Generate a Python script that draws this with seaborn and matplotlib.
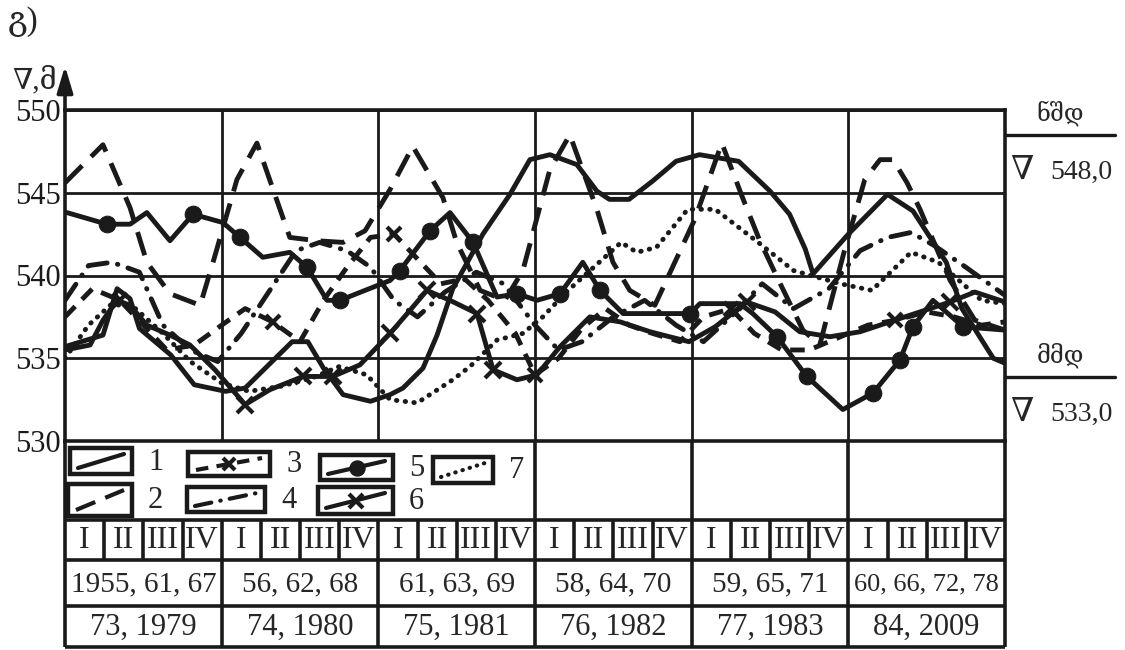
import numpy as np
import pandas as pd
import matplotlib
matplotlib.use("Agg")
import matplotlib.pyplot as plt
import seaborn as sns
from matplotlib.transforms import blended_transform_factory
from matplotlib.patches import Rectangle

# ---------------- data (x in quarters from the start, 0..24) ----------------
s1_x = [0, 0.97, 1.33, 1.66, 1.9, 2.7, 3.3, 4.1, 4.6, 5.8, 6.2, 6.6, 7.1, 7.8, 8.3, 8.63, 9.14, 9.5, 9.9, 10.67,
        11.36, 11.87, 12.38, 13.07, 13.58, 13.9, 14.4, 15.0, 15.6, 16.2, 17.2, 18.0, 18.5, 18.9, 19.1, 20.0, 21.0,
        21.65, 22.5, 22.9, 23.7, 24]
s1_y = [535.7, 536.4, 539.2, 538.6, 536.8, 535.2, 533.4, 533.0, 533.2, 536.0, 536.0, 534.4, 532.8, 532.4, 532.8,
        533.2, 534.4, 536.4, 539.2, 542.5, 544.9, 547.0, 547.3, 546.7, 545.1, 544.6, 544.6, 545.7, 546.9, 547.3,
        546.9, 545.1, 543.7, 541.6, 540.1, 542.5, 544.9, 543.9, 540.8, 538.0, 535.0, 534.7]

s2_x = [0, 0.97, 1.66, 2.09, 2.68, 3.45, 3.78, 4.39, 4.9, 5.74, 6.43, 7.1, 7.66, 8.3, 8.88, 9.65, 10.0, 10.6,
        11.23, 11.69, 11.95, 12.38, 12.89, 13.58, 13.99, 14.42, 15.06, 16.08, 16.77, 17.3, 17.74, 18.18, 18.84,
        19.27, 19.9, 20.42, 20.81, 21.14, 21.5, 21.83, 22.6, 23.23, 24]
s2_y = [545.6, 547.9, 544.1, 540.8, 538.9, 538.2, 540.8, 545.8, 548.0, 542.3, 542.1, 542.0, 542.7, 545.2, 547.8,
        544.7, 542.0, 539.1, 538.5, 540.3, 542.6, 546.4, 548.5, 544.0, 540.8, 539.1, 538.2, 543.4, 548.0, 544.7,
        542.1, 539.9, 536.7, 535.8, 541.5, 545.8, 547.0, 547.0, 545.6, 544.0, 539.7, 537.3, 536.7]

s3_x = [0, 0.7, 1.4, 2.0, 2.6, 3.3, 4.0, 4.6, 5.3, 6.0, 6.6, 7.2, 7.8, 8.4, 9.0, 9.6, 10.2, 10.8, 11.5, 12.0,
        12.6, 13.2, 13.8, 14.4, 15.0, 15.7, 16.3, 17.0, 17.6, 18.3, 19.0, 19.7, 20.5, 21.2, 22.0, 22.7, 23.4, 24]
s3_y = [537.5, 539.2, 538.5, 537.0, 535.5, 535.8, 537.0, 538.0, 537.2, 536.0, 538.5, 540.5, 542.3, 542.5, 541.0,
        539.5, 539.8, 538.5, 536.5, 534.0, 535.0, 536.8, 538.0, 537.0, 536.5, 536.0, 537.5, 538.0, 536.5, 535.5,
        535.5, 536.2, 537.0, 537.3, 537.8, 537.5, 537.0, 537.2]
s3_marks = [2, 8, 13, 19, 27, 33]

s4_x = [0, 0.6, 1.2, 1.9, 2.5, 3.2, 3.9, 4.5, 5.2, 5.9, 6.5, 7.2, 7.8, 8.4, 9.0, 9.7, 10.5, 11.2, 12.0, 12.6,
        13.2, 14.0, 14.8, 15.6, 16.3, 17.0, 17.8, 18.6, 19.5, 20.3, 21.0, 21.6, 22.2, 23.0, 24]
s4_y = [538.5, 540.6, 540.8, 540.2, 537.0, 535.5, 534.8, 536.5, 539.0, 541.5, 542.0, 541.5, 540.5, 538.5, 537.5,
        539.0, 540.2, 539.5, 537.0, 535.5, 536.0, 537.5, 538.5, 537.0, 536.0, 537.5, 539.5, 538.0, 539.2, 541.5,
        542.3, 542.6, 541.8, 540.5, 538.8]

s5_x = [0.05, 1.07, 1.66, 2.09, 2.68, 3.27, 4.03, 4.47, 5.05, 5.74, 6.18, 6.69, 7.02, 8.3, 8.55, 9.32, 9.83,
        10.42, 11.03, 11.54, 12.05, 12.64, 13.22, 13.66, 14.25, 15.96, 16.21, 17.23, 17.56, 18.18, 18.94, 19.86,
        20.63, 21.32, 21.65, 22.16, 22.93, 24]
s5_y = [543.8, 543.1, 543.1, 543.8, 542.1, 543.7, 543.2, 542.3, 541.1, 541.4, 540.5, 538.5, 538.5, 539.7, 540.3,
        542.7, 543.8, 542.0, 538.7, 538.9, 538.5, 538.9, 540.8, 539.1, 537.7, 537.7, 538.3, 538.3, 537.7, 536.3,
        533.9, 531.9, 532.9, 534.9, 536.9, 538.5, 536.9, 536.7]
s5_marks = [1, 5, 7, 10, 12, 14, 15, 17, 19, 21, 23, 25, 29, 30, 32, 33, 34, 36]

s6_x = [0, 0.64, 0.97, 1.33, 1.66, 2.09, 2.68, 3.19, 3.83, 4.6, 5.23, 6.08, 6.84, 7.53, 8.3, 8.81, 9.24, 9.83,
        10.52, 10.93, 11.54, 12.05, 12.64, 13.4, 14.17, 14.94, 15.93, 16.6, 17.4, 18.13, 18.76, 19.53, 20.3, 21.06,
        21.83, 22.6, 23.23, 24]
s6_y = [535.5, 535.8, 537.3, 538.5, 538.2, 537.0, 536.4, 535.8, 534.3, 532.2, 533.1, 533.9, 533.9, 534.6, 536.5,
        537.9, 539.1, 538.5, 537.7, 534.3, 533.7, 534.0, 535.7, 537.5, 537.2, 536.6, 536.0, 536.9, 538.4, 537.8,
        536.6, 536.3, 536.6, 537.2, 537.8, 538.4, 539.0, 538.4]
s6_marks = [9, 11, 12, 14, 16, 18, 19, 28, 35]

s7_x = [0, 0.6, 1.2, 1.8, 2.5, 3.2, 4.0, 4.7, 5.5, 6.3, 7.0, 7.7, 8.3, 8.99, 9.9, 10.34, 11.03, 11.69, 12.2, 12.8,
        13.5, 14.2, 14.6, 15.1, 15.9, 16.6, 17.7, 18.6, 19.8, 20.6, 21.6, 22.3, 23.4, 24]
s7_y = [535.0, 537.0, 538.3, 538.0, 536.5, 534.8, 533.5, 533.0, 533.3, 533.8, 534.5, 534.0, 532.5, 532.3, 533.7,
        534.5, 536.1, 536.5, 537.5, 539.0, 540.5, 542.0, 541.4, 541.7, 544.0, 544.0, 542.0, 540.3, 539.5, 539.1,
        541.4, 540.8, 538.5, 538.3]

y_ticks = [530, 535, 540, 545, 550]
quarters = ["I", "II", "III", "IV"]
years_row1 = ["1955, 61, 67", "56, 62, 68", "61, 63, 69", "58, 64, 70", "59, 65, 71", "60, 66, 72, 78"]
years_row2 = ["73, 1979", "74, 1980", "75, 1981", "76, 1982", "77, 1983", "84, 2009"]
legend_ids = ["1", "3", "5", "7", "2", "4", "6"]
levels = [("ნშდ", "548,0"), ("მმდ", "533,0")]

# ---------------- styles ----------------
LW = 3.5
styles = {
    "1": dict(linestyle="-"),
    "2": dict(linestyle=(0, (5, 2.6))),
    "3": dict(linestyle=(0, (3, 2)), marker="x", ms=10, mew=3, mec="k"),
    "4": dict(linestyle=(0, (4, 2.2, 0.1, 2.2)), dash_capstyle="round"),
    "5": dict(linestyle="-", marker="o", ms=12, mec="k", mfc="k"),
    "6": dict(linestyle="-", marker="x", ms=11, mew=3, mec="k"),
    "7": dict(linestyle=(0, (0.1, 1.7)), dash_capstyle="round"),
}
series = {
    "1": (s1_x, s1_y, None), "2": (s2_x, s2_y, None), "3": (s3_x, s3_y, s3_marks),
    "4": (s4_x, s4_y, None), "5": (s5_x, s5_y, s5_marks), "6": (s6_x, s6_y, s6_marks),
    "7": (s7_x, s7_y, None),
}

sns.set_theme(style="white")
plt.rcParams["font.family"] = ["Liberation Serif", "DejaVu Serif", "DejaVu Sans"]

W, H = 1125, 650
L, R, T, B = 65, 1005, 110, 441
fig = plt.figure(figsize=(W / 100, H / 100), dpi=100)
ax = fig.add_axes([L / W, 1 - B / H, (R - L) / W, (B - T) / H])
ov = fig.add_axes([0, 0, 1, 1], zorder=5)
ov.set_xlim(0, W)
ov.set_ylim(H, 0)
ov.axis("off")
ov.patch.set_alpha(0)

# ---------------- main chart ----------------
for key, (xs, ys, marks) in series.items():
    kw = dict(styles[key])
    if marks is not None:
        kw["markevery"] = marks
    sns.lineplot(x=xs, y=ys, ax=ax, color="k", lw=LW, estimator=None, sort=False,
                 legend=False, **kw)

ax.set_xlim(0, 24)
ax.set_ylim(530, 550)
ax.set_xticks([4, 8, 12, 16, 20])
ax.set_xticklabels([])
ax.set_yticks(y_ticks)
ax.set_yticklabels([str(v) for v in y_ticks])
ax.tick_params(axis="both", length=0, pad=3, labelsize=22, labelcolor="k")
ax.grid(True, color="k", lw=2)
ax.set_axisbelow(True)
ax.set_xlabel("")
ax.set_ylabel("")
for sp in ax.spines.values():
    sp.set_color("k")
    sp.set_linewidth(2.6)

# axis arrow and label
ov.annotate("", xy=(L, 66), xytext=(L, T),
            arrowprops=dict(arrowstyle="-|>,head_width=0.3,head_length=1.0", color="k", lw=2.6,
                            mutation_scale=16, shrinkA=0, shrinkB=0))
ov.text(12, 80, "∇,მ", fontsize=21, va="center", ha="left")
ov.text(8, 22, "გ)", fontsize=24, va="center", ha="left")

# right-hand level annotations
for (name, val), yl in zip(levels, [135, 377]):
    ov.plot([R, 1115], [yl, yl], color="k", lw=2.4, clip_on=False)
    ov.text(1060, yl - 22, name, fontsize=17, ha="center", va="center")
    ov.text(1022, yl + 36, "∇", fontsize=24, ha="center", va="center")
    ov.text(1050, yl + 37, val, fontsize=20, ha="left", va="center")

# ---------------- table below ----------------
tr = blended_transform_factory(ax.transData, ov.transData)
kline = dict(color="k", lw=2.6, transform=tr, clip_on=False, solid_capstyle="butt")
y_q0, y_q1, y_y1, y_y2 = 520, 560, 606, 647
for yy in [y_q0, y_q1, y_y1, y_y2]:
    ov.plot([0, 24], [yy, yy], **kline)
ov.plot([0, 0], [B, y_y2], **kline)
ov.plot([24, 24], [B, y_y2], **kline)
for xg in [12, 16, 20]:
    ov.plot([xg, xg], [B, y_q0], **kline)
for xq in range(1, 24):
    ov.plot([xq, xq], [y_q0, y_q1], **kline)
for xg in [4, 8, 12, 16, 20]:
    ov.plot([xg, xg], [y_q1, y_y2], **kline)

for k in range(24):
    ov.text(k + 0.5, (y_q0 + y_q1) / 2 + 1, quarters[k % 4], transform=tr, fontsize=23,
            ha="center", va="center")
for g in range(6):
    fs1 = 19 if g == 5 else 21
    ov.text(4 * g + 2, (y_q1 + y_y1) / 2 + 1, years_row1[g], transform=tr, fontsize=fs1,
            ha="center", va="center")
    ov.text(4 * g + 2, (y_y1 + y_y2) / 2 + 1, years_row2[g], transform=tr, fontsize=22,
            ha="center", va="center")

# legend boxes (pixel layout)
boxes = {"1": (70, 448, 132, 474), "3": (188, 452, 270, 476), "5": (320, 455, 393, 480),
         "7": (433, 457, 493, 483), "2": (68, 484, 132, 516), "4": (187, 487, 265, 512),
         "6": (318, 487, 393, 514)}
for key in legend_ids:
    x0, y0, x1, y1 = boxes[key]
    ov.add_patch(Rectangle((x0, y0), x1 - x0, y1 - y0, fill=False, ec="k", lw=3.2))
    kw = dict(styles[key])
    if "marker" in kw:
        kw["markevery"] = [1]
        kw["ms"] = kw.get("ms", 10) * 0.9
    xs = [x0 + 8, (x0 + x1) / 2, x1 - 8]
    ys = [y1 - 6, (y0 + y1) / 2, y0 + 6]
    ov.plot(xs, ys, color="k", lw=3.0, **kw)
    ov.text(x1 + 16, (y0 + y1) / 2 + 1, key, fontsize=22, ha="left", va="center")

fig.savefig("out.png", dpi=100, facecolor="white")
